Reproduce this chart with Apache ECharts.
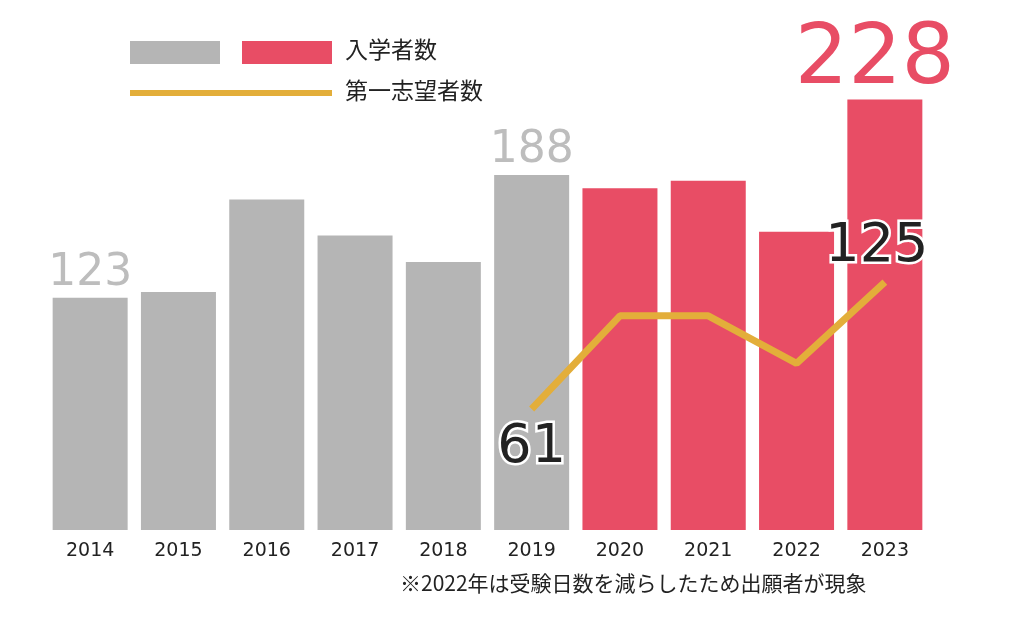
<!DOCTYPE html>
<html><head><meta charset="utf-8">
<script src="https://cdn.jsdelivr.net/npm/echarts@6/dist/echarts.min.js"></script>
<style>html,body{margin:0;background:#fff}#c{width:1026px;height:620px}</style>
</head><body><div id="c"></div>
<script>
var years = ['2014', '2015', '2016', '2017', '2018', '2019', '2020', '2021', '2022', '2023'];
var enrolled = [123, 126, 175, 156, 142, 188, 181, 185, 158, 228];
var firstChoice = [null, null, null, null, null, 61, 108, 108, 84, 125];
var note = '※2022年は受験日数を減らしたため出願者が現象';

var GRAY = '#b5b5b5', RED = '#e84d65', GOLD = '#e3ae3a';
var font = '"DejaVu Sans", sans-serif';

var barData = enrolled.map(function (v, i) {
    var item = { value: v, itemStyle: { color: i < 6 ? GRAY : RED } };
    if (i === 0 || i === 5) item.label = { show: true, position: 'top', distance: 2, fontSize: 44, color: '#bdbdbd', fontFamily: font };
    if (i === 9) item.label = { show: true, position: 'top', distance: -4, offset: [-10, 0], fontSize: 84, color: RED, fontFamily: font };
    return item;
});
var lineData = firstChoice.map(function (v, i) {
    var item = { value: v };
    if (i === 5) item.label = { show: true, position: 'bottom', distance: 12 };
    if (i === 9) item.label = { show: true, position: 'top', distance: 8, offset: [-8, 0] };
    return item;
});

var chart = echarts.init(document.getElementById('c'));
chart.setOption({
    animation: false,
    grid: { left: 46, right: 97, top: 58, bottom: 90 },
    xAxis: {
        type: 'category', data: years,
        axisLine: { show: false }, axisTick: { show: false },
        axisLabel: { fontSize: 19, color: '#222', margin: 12, fontFamily: font }
    },
    yAxis: [
        { type: 'value', min: 0, max: 250, show: false },
        { type: 'value', min: 0, max: 238, show: false }
    ],
    series: [{
        type: 'bar', data: barData, barWidth: 75, yAxisIndex: 0
    }, {
        type: 'line', data: lineData, yAxisIndex: 1, symbol: 'circle', symbolSize: 0.1, showSymbol: true,
        lineStyle: { color: GOLD, width: 7 }, itemStyle: { color: GOLD },
        label: { fontSize: 54, color: '#222', fontFamily: font, textBorderColor: '#fff', textBorderWidth: 5 }
    }],
    graphic: [
        { type: 'rect', shape: { x: 130, y: 41, width: 90, height: 23 }, style: { fill: GRAY } },
        { type: 'rect', shape: { x: 242, y: 41, width: 90, height: 23 }, style: { fill: RED } },
        { type: 'text', left: 345, top: 38, style: { text: '入学者数', fontSize: 23, fill: '#222', fontFamily: '"Noto Sans CJK JP"' } },
        { type: 'rect', shape: { x: 130, y: 90, width: 202, height: 6 }, style: { fill: GOLD } },
        { type: 'text', left: 345, top: 79, style: { text: '第一志望者数', fontSize: 23, fill: '#222', fontFamily: '"Noto Sans CJK JP"' } },
        { type: 'text', left: 400, top: 573, style: { text: note, fontSize: 21, fill: '#222', fontFamily: '"Noto Sans CJK JP"' } }
    ]
});
</script></body></html>
